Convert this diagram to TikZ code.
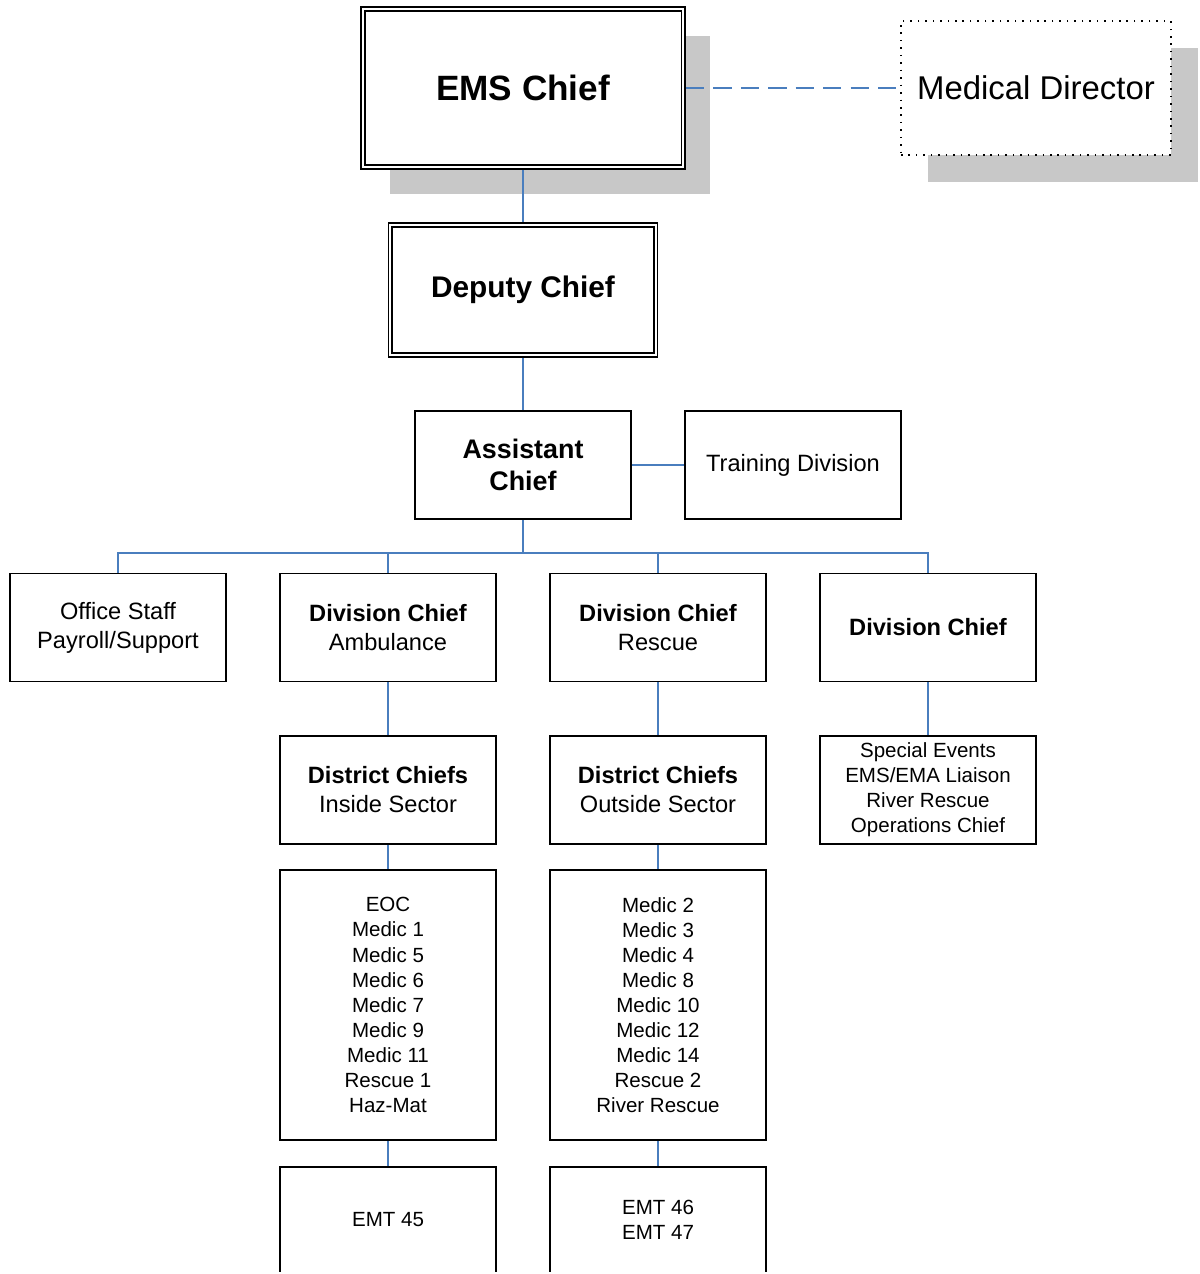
\documentclass[tikz,border=0pt]{standalone}
\usepackage{fontspec}
\setmainfont{Liberation Sans}
\usepackage{tikz}
\usetikzlibrary{shadows}

\definecolor{linkblue}{RGB}{74,126,190}
\definecolor{shadowgray}{RGB}{200,200,200}

\begin{document}
\begin{tikzpicture}[
    x=0.025cm, y=-0.025cm,
    box/.style={rectangle, draw=black, line width=1.2pt, fill=white,
        minimum width=5.4cm, minimum height=2.7cm, align=center, inner sep=2pt,
        font=\fontsize{16.8}{20.6}\selectfont},
    listbox/.style={box, font=\fontsize{14.6}{17.8}\selectfont},
    chiefbox/.style={rectangle, draw=black, line width=1.2pt, double=white, double distance=1.5pt,
        fill=white, align=center, outer sep=2pt},
    dotbox/.style={rectangle, draw=black, line width=1.4pt, dash pattern=on 1.1pt off 4.2pt,
        fill=white, align=center, minimum width=6.75cm, minimum height=3.35cm,
        font=\fontsize{23.4}{28}\selectfont},
    shade/.style={drop shadow={shadow xshift=0.675cm, shadow yshift=-0.675cm,
        fill=shadowgray, opacity=1}},
    link/.style={draw=linkblue, line width=1.1pt},
    dashlink/.style={link, dash pattern=on 13pt off 6.5pt}
]
\useasboundingbox (0,0) rectangle (1199,1274);
\clip (0,0) rectangle (1199,1271);

\node[chiefbox, shade, minimum width=8.01cm, minimum height=3.95cm,
    font=\fontsize{25}{30}\selectfont\bfseries] (ems) at (523,88) {EMS Chief};
\node[dotbox, shade] (meddir) at (1036,88) {Medical Director};
\node[chiefbox, minimum width=6.63cm, minimum height=3.26cm,
    font=\fontsize{21.2}{26}\selectfont\bfseries] (deputy) at (523,290) {Deputy Chief};

\node[box, font=\fontsize{19.1}{22.8}\selectfont\bfseries] (asst) at (523,465) {Assistant\\Chief};
\node[box] (training) at (793,465) {Training Division};
\coordinate (bus) at (523,553);

\node[box] (office) at (118,627.5) {Office Staff\\Payroll/Support};
\node[box] (ambulance) at (388,627.5) {\textbf{Division Chief}\\Ambulance};
\node[box] (rescue) at (658,627.5) {\textbf{Division Chief}\\Rescue};
\node[box] (divchief) at (928,627.5) {\textbf{Division Chief}};

\node[box] (inside) at (388,790) {\textbf{District Chiefs}\\Inside Sector};
\node[box] (outside) at (658,790) {\textbf{District Chiefs}\\Outside Sector};
\node[listbox] (events) at (928,790) {Special Events\\EMS/EMA Liaison\\River Rescue\\Operations Chief};

\node[listbox, minimum height=6.75cm] (insideunits) at (388,1005)
    {EOC\\Medic 1\\Medic 5\\Medic 6\\Medic 7\\Medic 9\\Medic 11\\Rescue 1\\Haz-Mat};
\node[listbox, minimum height=6.75cm] (outsideunits) at (658,1005)
    {Medic 2\\Medic 3\\Medic 4\\Medic 8\\Medic 10\\Medic 12\\Medic 14\\Rescue 2\\River Rescue};

\node[listbox, minimum height=2.65cm] (insideemt) at (388,1220) {EMT 45};
\node[listbox, minimum height=2.65cm] (outsideemt) at (658,1220) {EMT 46\\EMT 47};

\draw[dashlink] (ems.east) -- (meddir.west);
\draw[link] (ems) -- (deputy);
\draw[link] (deputy) -- (asst);
\draw[link] (asst) -- (training);
\draw[link] (asst) -- (bus);
\draw[link] (office.north) |- (bus) -| (divchief.north);
\draw[link] (ambulance) -- (ambulance |- bus);
\draw[link] (rescue) -- (rescue |- bus);
\draw[link] (ambulance) -- (inside);
\draw[link] (rescue) -- (outside);
\draw[link] (divchief) -- (events);
\draw[link] (inside) -- (insideunits);
\draw[link] (outside) -- (outsideunits);
\draw[link] (insideunits) -- (insideemt);
\draw[link] (outsideunits) -- (outsideemt);
\end{tikzpicture}
\end{document}
